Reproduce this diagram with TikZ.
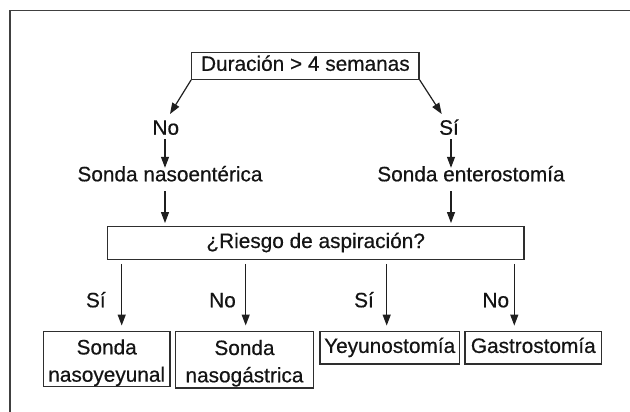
\documentclass[tikz,border=0pt]{standalone}
\usepackage{fontspec}
\setmainfont{Liberation Sans}[FakeBold=0.5]
\usetikzlibrary{arrows.meta}
\begin{document}
\begin{tikzpicture}[x=1pt,y=-1pt,
  every node/.style={font=\fontsize{20.8}{27.3}\selectfont, text=black!92},
  box/.style={draw=black!82, line width=1.3pt, inner sep=0pt, align=center},
  onebox/.style={box, text height=15pt, text depth=5pt},
  lbl/.style={inner sep=0pt, text height=15pt, text depth=4.5pt, anchor=base},
  arr/.style={draw=black!88, line width=1.2pt, -{Triangle[length=11pt,width=8pt]}}]
\useasboundingbox (0,0) rectangle (630,412);
\draw[black!75, line width=1.5pt] (10,412) -- (10,10.5) -- (630,10.5);

% nodes
\node[onebox, minimum width=227.3pt, minimum height=27pt] (dur) at (305.4,65.8) {Duración > 4 semanas};
\node[lbl] (no1) at (165.8,134.7) {No};
\node[lbl] (si1) at (449,134.7) {Sí};
\node[lbl] (sne) at (170,181.3) {Sonda nasoentérica};
\node[lbl] (sen) at (471,181.3) {Sonda enterostomía};
\node[onebox, minimum width=416.7pt, minimum height=32.6pt] (rie) at (315.7,243) {¿Riesgo de aspiración?};

\node[lbl] (sb1) at (95.8,307.3) {Sí};
\node[lbl] (sb2) at (222.5,307.3) {No};
\node[lbl] (sb3) at (364,307.3) {Sí};
\node[lbl] (sb4) at (495.8,307.3) {No};

\node[box, minimum width=126.7pt, minimum height=55pt] (b1) at (106.7,359.2) {\rule{0pt}{22pt}Sonda\\nasoyeyunal};
\node[box, minimum width=137.6pt, minimum height=56.3pt] (b2) at (244.5,359.8) {\rule{0pt}{22pt}Sonda\\nasogástrica};
\node[onebox, minimum width=139.3pt, minimum height=32.3pt] (b3) at (389.7,347.9) {Yeyunostomía};
\node[onebox, minimum width=136.7pt, minimum height=32.3pt] (b4) at (533.3,347.9) {Gastrostomía};

% arrow tips / columns
\coordinate (t1) at (170,114);
\coordinate (t2) at (441.7,114);
\coordinate (cl) at (165,0);
\coordinate (cr) at (451,0);
\coordinate (x1) at (121.7,0);
\coordinate (x2) at (245.7,0);
\coordinate (x3) at (386.7,0);
\coordinate (x4) at (514.3,0);

% connectors
\draw[arr] (dur.south west) -- (t1);
\draw[arr] (dur.south east) -- (t2);
\draw[arr, shorten >=-1.7pt] (no1.south -| cl) -- (sne.north -| cl);
\draw[arr, shorten >=-1.7pt] (si1.south -| cr) -- (sen.north -| cr);
\draw[arr, shorten <=5pt, shorten >=3pt] (sne.south -| cl) -- (rie.north -| cl);
\draw[arr, shorten <=5pt, shorten >=3pt] (sen.south -| cr) -- (rie.north -| cr);
\draw[arr, shorten <=4pt, shorten >=5.5pt] (rie.south -| x1) -- (b1.north -| x1);
\draw[arr, shorten <=4pt, shorten >=5.5pt] (rie.south -| x2) -- (b2.north -| x2);
\draw[arr, shorten <=4pt, shorten >=5.5pt] (rie.south -| x3) -- (b3.north -| x3);
\draw[arr, shorten <=4pt, shorten >=5.5pt] (rie.south -| x4) -- (b4.north -| x4);
\end{tikzpicture}
\end{document}
